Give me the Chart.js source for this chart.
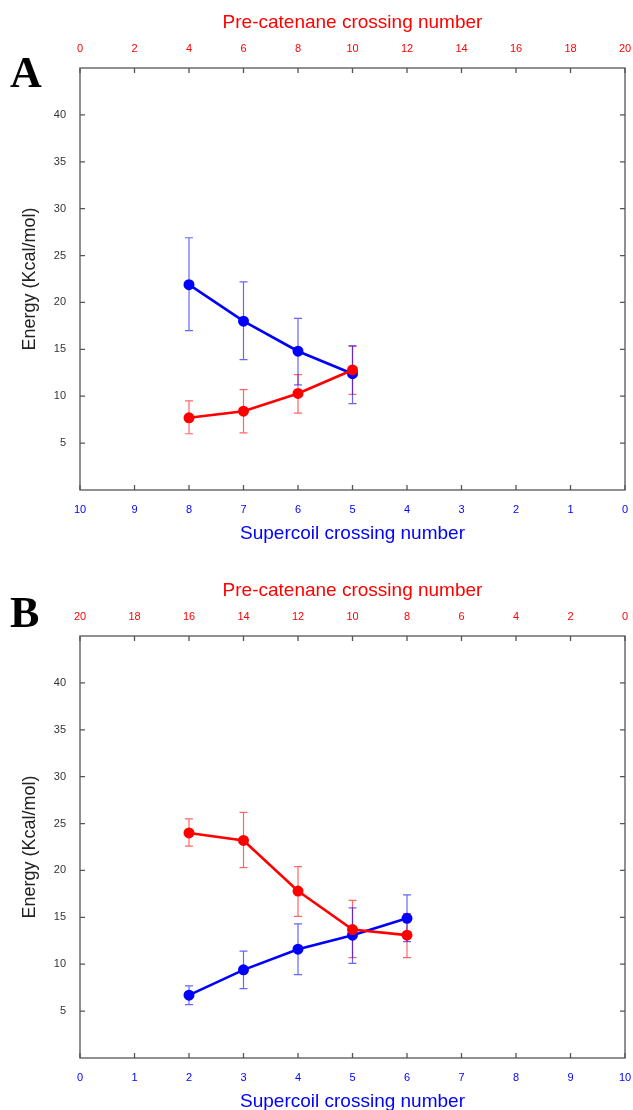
<!DOCTYPE html>
<html>
<head>
<meta charset="utf-8">
<script src="https://cdn.jsdelivr.net/npm/chart.js@4.4.1/dist/chart.umd.min.js"></script>
<style>
    html, body { margin: 0; padding: 0; background: #fff; overflow: hidden; }
    body { width: 633px; height: 1110px; position: relative; }
    .panel { position: absolute; left: 0; width: 633px; height: 555px; }
    .letter {
        position: absolute; left: 10px;
        font-family: 'Liberation Serif', 'DejaVu Serif', serif;
        font-weight: bold; font-size: 44px; line-height: 44px; color: #000;
    }
</style>
</head>
<body>
<div class="panel" style="top:0"><canvas id="chart-a" width="633" height="555"></canvas></div>
<div class="panel" style="top:568px"><canvas id="chart-b" width="633" height="555"></canvas></div>
<div class="letter" style="top:51px">A</div>
<div class="letter" style="top:591px">B</div>
<script>
// Shared axis ticks
const energyTicks = [5, 10, 15, 20, 25, 30, 35, 40];

// Panel A - supercoil (blue, bottom axis) and pre-catenane (red, top axis)
const aSuperX = [8, 7, 6, 5];
const aSuperE = [21.9, 18.0, 14.8, 12.4];
const aSuperLo = [17.0, 13.9, 11.2, 9.2];
const aSuperHi = [26.9, 22.2, 18.3, 15.4];
const aPreX = [4, 6, 8, 10];
const aPreE = [7.7, 8.4, 10.3, 12.8];
const aPreLo = [6.0, 6.1, 8.2, 10.2];
const aPreHi = [9.5, 10.7, 12.3, 15.3];

// Panel B
const bSuperX = [2, 3, 4, 5, 6];
const bSuperE = [6.7, 9.4, 11.6, 13.1, 14.9];
const bSuperLo = [5.7, 7.4, 8.9, 10.1, 12.4];
const bSuperHi = [7.7, 11.4, 14.3, 16.0, 17.4];
const bPreX = [16, 14, 12, 10, 8];
const bPreE = [24.0, 23.2, 17.8, 13.7, 13.1];
const bPreLo = [22.6, 20.3, 15.1, 10.7, 10.7];
const bPreHi = [25.5, 26.2, 20.4, 16.8, 15.4];

const BLUE = '#0000ff';
const RED = '#ff0000';
const FONT = "'Liberation Sans', Arial, sans-serif";

document.addEventListener('DOMContentLoaded', function() {

    /**
     * Builds point list for a series
     */
    function points(xs, ys) {
        return xs.map((x, i) => ({ x: x, y: ys[i] }));
    }

    /**
     * Error bars drawn under the lines, plus the box frame with inward ticks
     */
    const framePlugin = {
        id: 'frameAndErrors',
        beforeDatasetsDraw(chart) {
            const ctx = chart.ctx;
            const yScale = chart.scales.y;
            chart.data.datasets.forEach(ds => {
                const xScale = chart.scales[ds.xAxisID];
                ctx.save();
                ctx.strokeStyle = ds.errColor;
                ctx.lineWidth = 1.2;
                ds.data.forEach((p, i) => {
                    const px = xScale.getPixelForValue(p.x);
                    const top = yScale.getPixelForValue(ds.errHi[i]);
                    const bot = yScale.getPixelForValue(ds.errLo[i]);
                    ctx.beginPath();
                    ctx.moveTo(px, top); ctx.lineTo(px, bot);
                    ctx.moveTo(px - 4, top); ctx.lineTo(px + 4, top);
                    ctx.moveTo(px - 4, bot); ctx.lineTo(px + 4, bot);
                    ctx.stroke();
                });
                ctx.restore();
            });
        },
        afterDraw(chart) {
            const ctx = chart.ctx;
            const a = chart.chartArea;
            const tl = 5;
            ctx.save();
            ctx.strokeStyle = '#555';
            ctx.lineWidth = 1.3;
            ctx.strokeRect(a.left, a.top, a.right - a.left, a.bottom - a.top);
            ctx.beginPath();
            chart.scales.x.ticks.forEach(t => {
                const px = chart.scales.x.getPixelForValue(t.value);
                ctx.moveTo(px, a.bottom); ctx.lineTo(px, a.bottom - tl);
            });
            chart.scales.x2.ticks.forEach(t => {
                const px = chart.scales.x2.getPixelForValue(t.value);
                ctx.moveTo(px, a.top); ctx.lineTo(px, a.top + tl);
            });
            chart.scales.y.ticks.forEach(t => {
                const py = chart.scales.y.getPixelForValue(t.value);
                ctx.moveTo(a.left, py); ctx.lineTo(a.left + tl, py);
                ctx.moveTo(a.right, py); ctx.lineTo(a.right - tl, py);
            });
            ctx.stroke();
            ctx.restore();
        }
    };

    /**
     * Creates one energy panel with two x axes
     */
    function createPanel(canvas, d) {
        const data = {
            datasets: [
                {
                    label: 'Pre-catenane',
                    data: points(d.preX, d.preE),
                    xAxisID: 'x2',
                    yAxisID: 'y',
                    borderColor: RED,
                    backgroundColor: RED,
                    borderWidth: 2.6,
                    pointRadius: 4.2,
                    showLine: true,
                    errLo: d.preLo, errHi: d.preHi,
                    errColor: 'rgba(255, 0, 0, 0.6)'
                },
                {
                    label: 'Supercoil',
                    data: points(d.superX, d.superE),
                    xAxisID: 'x',
                    yAxisID: 'y',
                    borderColor: BLUE,
                    backgroundColor: BLUE,
                    borderWidth: 2.6,
                    pointRadius: 4.2,
                    showLine: true,
                    errLo: d.superLo, errHi: d.superHi,
                    errColor: 'rgba(0, 0, 255, 0.6)'
                }
            ]
        };

        // drop the extra room Chart.js keeps for the end tick labels
        const noEdgePad = s => { s.paddingLeft = 0; s.paddingRight = 0; };

        const options = {
            responsive: false,
            animation: false,
            layout: { padding: 0 },
            plugins: {
                legend: { display: false },
                tooltip: { enabled: false }
            },
            scales: {
                x: {
                    type: 'linear',
                    position: 'bottom',
                    min: 0, max: 10,
                    reverse: d.superReverse,
                    afterFit: s => { s.height = 65; noEdgePad(s); },
                    grid: { display: false },
                    border: { display: false },
                    ticks: {
                        stepSize: 1,
                        color: BLUE,
                        padding: 5,
                        maxRotation: 0,
                        font: { family: FONT, size: 11 }
                    },
                    title: {
                        display: true,
                        text: 'Supercoil crossing number',
                        color: BLUE,
                        padding: { top: 0, bottom: 10 },
                        font: { family: FONT, size: 19 }
                    }
                },
                x2: {
                    type: 'linear',
                    position: 'top',
                    min: 0, max: 20,
                    reverse: d.preReverse,
                    afterFit: s => { s.height = 68; noEdgePad(s); },
                    grid: { display: false },
                    border: { display: false },
                    ticks: {
                        stepSize: 2,
                        color: RED,
                        padding: 4,
                        maxRotation: 0,
                        font: { family: FONT, size: 11 }
                    },
                    title: {
                        display: true,
                        text: 'Pre-catenane crossing number',
                        color: RED,
                        padding: { top: 11, bottom: 0 },
                        font: { family: FONT, size: 19 }
                    }
                },
                y: {
                    type: 'linear',
                    position: 'left',
                    min: 0, max: 45,
                    afterFit: s => { s.width = 80; },
                    afterBuildTicks: s => { s.ticks = energyTicks.map(v => ({ value: v })); },
                    grid: { display: false },
                    border: { display: false },
                    ticks: {
                        color: '#333',
                        padding: 6,
                        font: { family: FONT, size: 11 }
                    },
                    title: {
                        display: true,
                        text: 'Energy (Kcal/mol)',
                        color: '#222',
                        padding: { top: 19, bottom: 0 },
                        font: { family: FONT, size: 18 }
                    }
                },
                y2: {
                    type: 'linear',
                    position: 'right',
                    min: 0, max: 45,
                    afterFit: s => { s.width = 8; },
                    grid: { display: false },
                    border: { display: false },
                    ticks: { display: false }
                }
            }
        };

        new Chart(canvas, {
            type: 'scatter',
            data: data,
            options: options,
            plugins: [framePlugin]
        });
    }

    createPanel(document.getElementById('chart-a'), {
        superX: aSuperX, superE: aSuperE, superLo: aSuperLo, superHi: aSuperHi,
        preX: aPreX, preE: aPreE, preLo: aPreLo, preHi: aPreHi,
        superReverse: true, preReverse: false
    });
    createPanel(document.getElementById('chart-b'), {
        superX: bSuperX, superE: bSuperE, superLo: bSuperLo, superHi: bSuperHi,
        preX: bPreX, preE: bPreE, preLo: bPreLo, preHi: bPreHi,
        superReverse: false, preReverse: true
    });
});
</script>
</body>
</html>
